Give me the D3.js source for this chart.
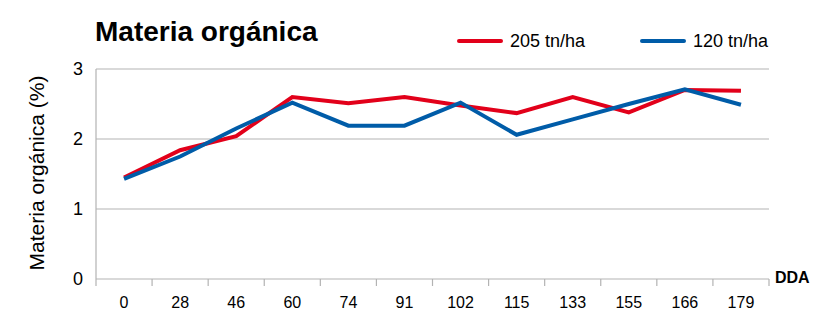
<!DOCTYPE html>
<html>
<head>
<meta charset="utf-8">
<script src="https://cdn.jsdelivr.net/npm/d3@7"></script>
<style>
  body { margin: 0; background: #fff; }
  text { font-family: "Liberation Sans", Arial, Helvetica, sans-serif; fill: #000; }
</style>
</head>
<body>
<div id="chart"></div>
<script>
// Chart data
const categories = ["0", "28", "46", "60", "74", "91", "102", "115", "133", "155", "166", "179"];
const red205 = [1.45, 1.84, 2.04, 2.60, 2.51, 2.60, 2.48, 2.37, 2.60, 2.38, 2.70, 2.69];
const blue120 = [1.43, 1.75, 2.15, 2.52, 2.19, 2.19, 2.52, 2.06, 2.28, 2.50, 2.71, 2.49];
const yTicks = [0, 1, 2, 3];
const seriesNames = ["205 tn/ha", "120 tn/ha"];
const colors = ["#e2001a", "#005ca8"];

const W = 838, H = 335;
const margin = { top: 69, right: 69, bottom: 56, left: 96 };
const width = W - margin.left - margin.right;
const height = H - margin.top - margin.bottom;

const svg = d3.select("#chart")
  .append("svg")
    .attr("width", W)
    .attr("height", H);

const g = svg.append("g")
    .attr("transform", `translate(${margin.left},${margin.top})`);

const x = d3.scaleBand()
  .domain(categories)
  .range([0, width]);

const y = d3.scaleLinear()
  .domain([0, 3])
  .range([height, 0]);

// gridlines
g.selectAll(".grid")
  .data(yTicks)
  .join("line")
    .attr("x1", 0)
    .attr("x2", width)
    .attr("y1", d => y(d))
    .attr("y2", d => y(d))
    .attr("stroke", "#b3b3b3")
    .attr("stroke-width", 1.2);

// y axis line
g.append("line")
  .attr("x1", 0).attr("x2", 0)
  .attr("y1", 0).attr("y2", height)
  .attr("stroke", "#b3b3b3")
  .attr("stroke-width", 1.2);

// y tick labels
g.selectAll(".ylab")
  .data(yTicks)
  .join("text")
    .attr("x", -13)
    .attr("y", d => y(d) + 6)
    .attr("text-anchor", "end")
    .attr("font-size", 18)
    .text(d => d);

// x axis
const xAxis = g.append("g")
  .attr("transform", `translate(0,${height})`)
  .call(d3.axisBottom(x).tickSize(0).tickPadding(18));
xAxis.select(".domain").remove();
xAxis.selectAll("text")
  .attr("font-size", 16)
  .attr("font-family", "Liberation Sans, Arial, sans-serif")
  .attr("fill", "#000");

// x tick marks at band edges
const edges = categories.map(c => x(c)).concat([width]);
g.selectAll(".xtick")
  .data(edges)
  .join("line")
    .attr("x1", d => d).attr("x2", d => d)
    .attr("y1", height).attr("y2", height + 7)
    .attr("stroke", "#b3b3b3")
    .attr("stroke-width", 1.2);

// lines
const line = d3.line()
  .x((d, i) => x(categories[i]) + x.bandwidth() / 2)
  .y(d => y(d));

[red205, blue120].forEach((s, k) => {
  g.append("path")
    .datum(s)
    .attr("fill", "none")
    .attr("stroke", colors[k])
    .attr("stroke-width", 4)
    .attr("stroke-linejoin", "miter")
    .attr("d", line);
});

// title
svg.append("text")
  .attr("x", 95)
  .attr("y", 41)
  .attr("font-size", 28)
  .attr("font-weight", "bold")
  .text("Materia orgánica");

// legend
const legendX = [459, 642];
seriesNames.forEach((name, k) => {
  svg.append("line")
    .attr("x1", legendX[k]).attr("x2", legendX[k] + 42)
    .attr("y1", 41).attr("y2", 41)
    .attr("stroke", colors[k])
    .attr("stroke-width", 4)
    .attr("stroke-linecap", "round");
  svg.append("text")
    .attr("x", legendX[k] + 51)
    .attr("y", 47)
    .attr("font-size", 18)
    .text(name);
});

// y axis title
svg.append("text")
  .attr("transform", "translate(44,173) rotate(-90)")
  .attr("text-anchor", "middle")
  .attr("font-size", 21)
  .text("Materia orgánica (%)");

// x axis title
svg.append("text")
  .attr("x", 775)
  .attr("y", 283)
  .attr("font-size", 16)
  .attr("font-weight", "bold")
  .text("DDA");
</script>
</body>
</html>
